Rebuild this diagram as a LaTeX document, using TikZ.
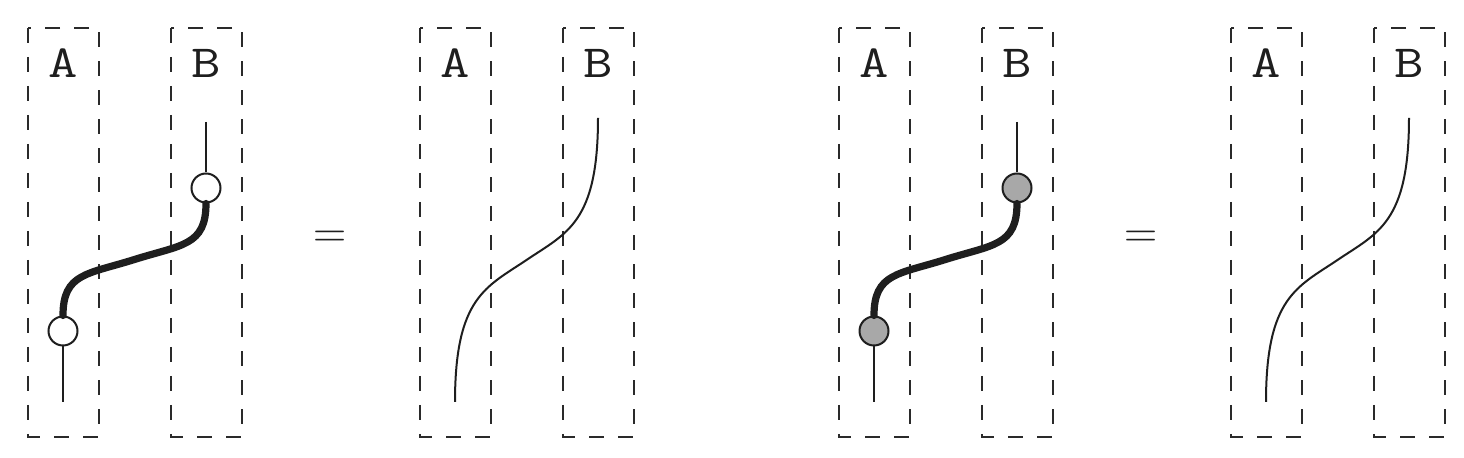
\documentclass[tikz,border=0pt]{standalone}
\usepackage{graphicx}
\definecolor{strich}{HTML}{1E1E1E}
\definecolor{kasten}{HTML}{2A2A2A}
\definecolor{grau}{HTML}{A8A8A8}
\newcommand\beschrf{\fontsize{23}{27}\selectfont\ttfamily}
\newcommand\breit[1]{\scalebox{1.24}[1]{#1}}
% zwei gestrichelte Kästen A und B, #1 = Versatz in x, #2 = Namenspräfix
\newcommand\kaesten[2]{\draw[rahmen] (#1+28,28) rectangle (#1+99,437) (#1+171,28) rectangle (#1+242,437);%
  \node[beschr] (#2a) at (#1+63,63) {\breit{A}};%
  \node[beschr] (#2b) at (#1+206,63) {\breit{B}};}
% Verbindung mit zwei Punkten, #3 = Füllung der Punkte
\newcommand\punktpaar[3]{\coordinate (#2s1) at (#1+63,402);%
  \coordinate (#2s2) at (#1+206,122);%
  \node[punkt,fill=#3] (#2u) at (#1+63,331) {};%
  \node[punkt,fill=#3] (#2o) at (#1+206,188) {};%
  \draw[duenn] (#2s1) -- (#2u) (#2s2) -- (#2o);%
  \draw[dick] (#2u) .. controls +(0,-58) and +(-47,14.8) .. (#1+134.5,259.5)
    .. controls +(47,-14.8) and +(0,58) .. (#2o);}
% glatte Verbindung ohne Punkte
\newcommand\bogen[2]{\coordinate (#2s1) at (#1+63,402);%
  \coordinate (#2s2) at (#1+206,118);%
  \draw[duenn] (#2s1) .. controls +(0,-105) and +(-40,27) .. (#1+134.5,260)
    .. controls +(40,-27) and +(0,105) .. (#2s2);}

\begin{document}
\begin{tikzpicture}[x=0.5pt,y=-0.5pt]
\useasboundingbox (0,0) rectangle (1464,458);
\tikzset{rahmen/.style={kasten,line width=1.15pt,dash pattern=on 7.5pt off 7pt},
  beschr/.style={font=\beschrf,inner sep=0,text=strich},
  punkt/.style={circle,draw=strich,line width=1pt,minimum size=14.5pt,inner sep=0},
  duenn/.style={strich,line width=1pt},
  dick/.style={strich,line width=3.6pt,line cap=round},
  gleich/.style={font=\fontsize{23}{27}\selectfont,inner sep=0,text=strich}}

% ---- weiße Punkte = glatte Linie
\kaesten{0}{p}
\punktpaar{0}{p}{white}
\node[gleich] (gl1) at (330,239) {=};
\kaesten{392}{q}
\bogen{392}{q}

% ---- graue Punkte = glatte Linie
\kaesten{811}{r}
\punktpaar{811}{r}{grau}
\node[gleich] (gl2) at (1141,239) {=};
\kaesten{1203}{s}
\bogen{1203}{s}
\end{tikzpicture}
\end{document}
